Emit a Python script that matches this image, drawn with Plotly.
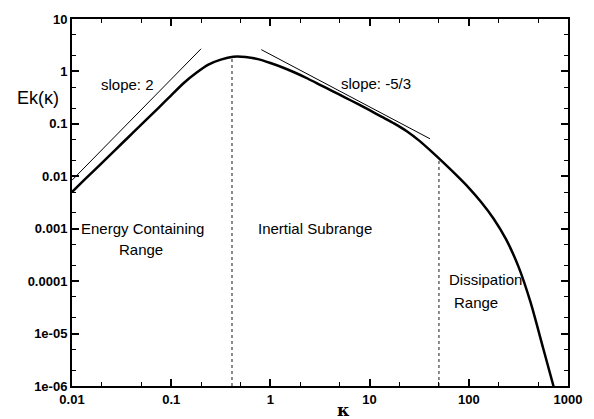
import plotly.graph_objects as go

# Energy spectrum (every 1/8 decade)
kappa = [0.01, 0.0133, 0.0178, 0.0237, 0.0316, 0.0422, 0.0562, 0.075,
         0.1, 0.133, 0.178, 0.237, 0.316, 0.422, 0.562, 0.75,
         1, 1.33, 1.78, 2.37, 3.16, 4.22, 5.62, 7.5,
         10, 13.3, 17.8, 23.7, 31.6, 42.2, 56.2, 75,
         100, 133, 178, 237, 316, 422, 562, 750]
energy = [0.00501, 0.00851, 0.01445, 0.02455, 0.0417, 0.0708, 0.120, 0.204,
          0.351, 0.596, 0.933, 1.349, 1.679, 1.905, 1.884, 1.718,
          1.445, 1.189, 0.944, 0.733, 0.556, 0.422, 0.320, 0.243,
          0.182, 0.136, 0.101, 0.0724, 0.0479, 0.0295, 0.0178, 0.0105,
          0.00603, 0.00324, 0.00155, 6.31e-4, 1.91e-4, 3.80e-5, 5.25e-6, 7.08e-7]

# Reference slope lines
slope2_k = [0.01, 0.2]
slope2_e = [0.0084, 2.7]
slope53_k = [0.81, 40.6]
slope53_e = [2.6, 0.052]

# Range boundaries (dotted verticals)
bound1_k = [0.41, 0.41]
bound1_e = [1e-6, 1.9]
bound2_k = [50, 50]
bound2_e = [1e-6, 0.021]

xtick_vals = [0.01, 0.1, 1, 10, 100, 1000]
xtick_text = ["0.01", "0.1", "1", "10", "100", "1000"]
ytick_vals = [1e-6, 1e-5, 1e-4, 1e-3, 1e-2, 0.1, 1, 10]
ytick_text = ["1e-06", "1e-05", "0.0001", "0.001", "0.01", "0.1", "1", "10"]

FONT = "Liberation Sans, Arial, Helvetica, sans-serif"

fig = go.Figure()
fig.add_trace(go.Scatter(x=bound1_k, y=bound1_e, mode="lines",
                         line=dict(color="#666666", width=1.5, dash="dot"), hoverinfo="skip"))
fig.add_trace(go.Scatter(x=bound2_k, y=bound2_e, mode="lines",
                         line=dict(color="#666666", width=1.5, dash="dot"), hoverinfo="skip"))
fig.add_trace(go.Scatter(x=slope2_k, y=slope2_e, mode="lines",
                         line=dict(color="black", width=1)))
fig.add_trace(go.Scatter(x=slope53_k, y=slope53_e, mode="lines",
                         line=dict(color="black", width=1)))
fig.add_trace(go.Scatter(x=kappa, y=energy, mode="lines",
                         line=dict(color="black", width=2.5, shape="spline", smoothing=0.6)))

minor_x = [m * 10.0 ** d for d in range(-2, 3) for m in (2, 5)]
minor_y = [m * 10.0 ** d for d in range(-6, 1) for m in (2, 5)]

axis_common = dict(
    type="log", showline=True, linecolor="black", linewidth=2, mirror="ticks",
    ticks="inside", ticklen=7, tickwidth=1.5, tickcolor="black",
    showgrid=False, zeroline=False,
    tickfont=dict(family=FONT, size=13, color="black", weight="bold"),
)

fig.update_xaxes(range=[-2, 3], tickmode="array", tickvals=xtick_vals, ticktext=xtick_text,
                 minor=dict(tickmode="array", tickvals=minor_x, ticks="inside", ticklen=4,
                            tickwidth=1.2, tickcolor="black"),
                 **axis_common)
fig.update_yaxes(range=[-6, 1], tickmode="array", tickvals=ytick_vals, ticktext=ytick_text,
                 minor=dict(tickmode="array", tickvals=minor_y, ticks="inside", ticklen=4,
                            tickwidth=1.2, tickcolor="black"),
                 **axis_common)

def txt(text, lx, ly, anchor="center"):
    fig.add_annotation(x=lx, y=ly, xref="x", yref="y", text=text, showarrow=False,
                       xanchor=anchor, yanchor="middle",
                       font=dict(family=FONT, size=15, color="black"))

txt("slope: 2", -1.438, -0.258)
txt("slope: -5/3", 1.062, -0.226)
txt("Energy Containing", -1.294, -2.994)
txt("Range", -1.307, -3.39)
txt("Inertial Subrange", 0.449, -2.994)
txt("Dissipation", 1.777, -3.968, "left")
txt("Range", 1.827, -4.409, "left")

fig.add_annotation(x=-0.0686, y=0.784, xref="paper", yref="paper", text="Ek(κ)",
                   showarrow=False, xanchor="center", yanchor="middle",
                   font=dict(family=FONT, size=18, color="black"))
fig.add_annotation(x=0.548, y=-0.066, xref="paper", yref="paper", text="<b>κ</b>",
                   showarrow=False, xanchor="center", yanchor="middle",
                   font=dict(family="DejaVu Serif, serif", size=17, color="black"))

fig.update_layout(
    width=594, height=419, showlegend=False,
    margin=dict(l=72, r=19, t=15, b=33),
    paper_bgcolor="white", plot_bgcolor="white",
)

fig.write_html("out.html")
